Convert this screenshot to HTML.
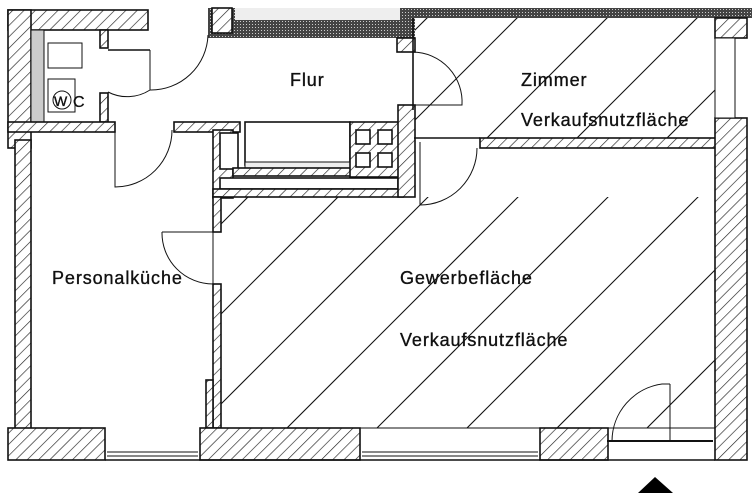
<!DOCTYPE html>
<html><head><meta charset="utf-8"><style>
html,body{margin:0;padding:0;background:#fff;}
svg{display:block;}
text{font-family:"Liberation Sans",sans-serif;font-size:18px;letter-spacing:0.9px;fill:#111;stroke:#111;stroke-width:0.35px;}
</style></head><body>
<svg width="756" height="499" viewBox="0 0 756 499" xmlns="http://www.w3.org/2000/svg">
<defs>
<pattern id="h" patternUnits="userSpaceOnUse" width="8" height="8" patternTransform="rotate(45)">
<rect width="8" height="8" fill="#fff"/><line x1="0" y1="0" x2="0" y2="8" stroke="#222" stroke-width="1.3"/>
</pattern>
<pattern id="d" patternUnits="userSpaceOnUse" width="3" height="3">
<rect width="3" height="3" fill="#444"/><rect width="1" height="1" fill="#ccc"/>
</pattern>
<clipPath id="rooms"><rect x="221" y="197" width="494" height="231"/><rect x="414" y="18" width="301" height="120"/></clipPath>
</defs>
<g clip-path="url(#rooms)" stroke="#111" stroke-width="1.1">
<line x1="445" y1="0" x2="-55" y2="500"/>
<line x1="535" y1="0" x2="35" y2="500"/>
<line x1="625" y1="0" x2="125" y2="500"/>
<line x1="715" y1="0" x2="215" y2="500"/>
<line x1="805" y1="0" x2="305" y2="500"/>
<line x1="895" y1="0" x2="395" y2="500"/>
<line x1="985" y1="0" x2="485" y2="500"/>
<line x1="1075" y1="0" x2="575" y2="500"/>
<line x1="1165" y1="0" x2="665" y2="500"/>
<line x1="1255" y1="0" x2="755" y2="500"/>
</g>
<g stroke="#111" stroke-width="1.6">
<rect x="8" y="10" width="140" height="20" fill="url(#h)"/>
<rect x="8" y="10" width="23" height="138" fill="url(#h)"/>
<rect x="15" y="140" width="16" height="290" fill="url(#h)"/>
<rect x="31" y="30" width="13" height="92" fill="#ccc" stroke-width="1"/>
<rect x="48" y="43" width="34" height="25" fill="#fff" stroke-width="1"/>
<rect x="48" y="79" width="27" height="33" fill="#fff" stroke-width="1"/>
<rect x="100" y="30" width="8" height="18" fill="url(#h)"/>
<rect x="100" y="93" width="8" height="29" fill="url(#h)"/>
<line x1="108" y1="50" x2="150" y2="50"/>
<rect x="8" y="122" width="107" height="10" fill="url(#h)"/>
<rect x="174" y="122" width="66" height="10" fill="url(#h)"/>
<rect x="208" y="8" width="207" height="30" fill="url(#d)" stroke="none"/>
<rect x="235" y="8" width="165" height="12" fill="#eee" stroke="none"/>
<rect x="212" y="8" width="20" height="25" fill="url(#h)"/>
<rect x="407" y="8" width="345" height="10" fill="url(#d)" stroke="none"/>
<rect x="397" y="38" width="18" height="14" fill="url(#h)"/>
<rect x="213" y="130" width="20" height="68" fill="url(#h)"/>
<rect x="220" y="133" width="18" height="36" fill="#fff"/>
<rect x="245" y="122" width="105" height="43" fill="#fff"/>
<rect x="245" y="162" width="105" height="6" fill="#eee" stroke-width="1"/>
<rect x="233" y="168" width="165" height="8" fill="url(#h)"/>
<rect x="220" y="178" width="178" height="11" fill="#fff"/>
<rect x="213" y="189" width="190" height="8" fill="url(#h)"/>
<rect x="350" y="122" width="50" height="55" fill="url(#h)"/>
<rect x="356" y="130" width="14" height="14" fill="#fff"/><rect x="378" y="130" width="14" height="14" fill="#fff"/>
<rect x="356" y="153" width="14" height="14" fill="#fff"/><rect x="378" y="153" width="14" height="14" fill="#fff"/>
<rect x="398" y="105" width="17" height="92" fill="url(#h)"/>
<rect x="480" y="138" width="236" height="10" fill="url(#h)"/>
<line x1="414" y1="138" x2="480" y2="138"/>
<line x1="413" y1="18" x2="413" y2="110"/>
<rect x="213" y="197" width="8" height="35" fill="url(#h)"/>
<rect x="213" y="284" width="8" height="144" fill="url(#h)"/>
<rect x="206" y="380" width="7" height="48" fill="url(#h)"/>
<rect x="715" y="18" width="32" height="20" fill="url(#h)"/>
<rect x="715" y="118" width="32" height="342" fill="url(#h)"/>
<rect x="715" y="38" width="20" height="80" fill="#fff" stroke-width="1"/>
<rect x="8" y="428" width="97" height="32" fill="url(#h)"/>
<rect x="200" y="428" width="160" height="32" fill="url(#h)"/>
<rect x="540" y="428" width="68" height="32" fill="url(#h)"/>
<line x1="105" y1="460" x2="715" y2="460"/>
<line x1="221" y1="428" x2="715" y2="428" stroke-width="1"/>
</g>
<g stroke="#111" stroke-width="1" fill="none">
<line x1="107" y1="452" x2="198" y2="452"/><line x1="107" y1="456" x2="198" y2="456"/>
<line x1="362" y1="452" x2="538" y2="452"/><line x1="362" y1="456" x2="538" y2="456"/>
<line x1="607" y1="441" x2="713" y2="441" stroke-width="2"/>
<path d="M150 50 L150 90 A42 42 0 0 1 108 92"/>
<path d="M115 130 L115 187 A57 57 0 0 0 172 130"/>
<path d="M208 35 A57 57 0 0 1 150 90"/>
<path d="M413 50 L413 105 L462 105 A50 50 0 0 0 413 52"/>
<path d="M420 142 L420 205 A57 57 0 0 0 477 148"/>
<path d="M162 232 L213 232 L213 284 A51 51 0 0 1 162 232"/>
<path d="M670 384 L670 441 M670 384 L662 384 A58 58 0 0 0 612 441"/>
<circle cx="62" cy="100" r="9"/>
</g>
<polygon points="655,477 638,493 673,493" fill="#000"/>
<text x="54" y="106" style="font-size:14px;letter-spacing:0">W</text><text x="73" y="107" style="font-size:16px;letter-spacing:0">C</text>
<text x="290" y="86">Flur</text>
<text x="521" y="86">Zimmer</text>
<text x="521" y="126">Verkaufsnutzfläche</text>
<text x="52" y="284">Personalküche</text>
<text x="400" y="284">Gewerbefläche</text>
<text x="400" y="346">Verkaufsnutzfläche</text>
</svg>
</body></html>
